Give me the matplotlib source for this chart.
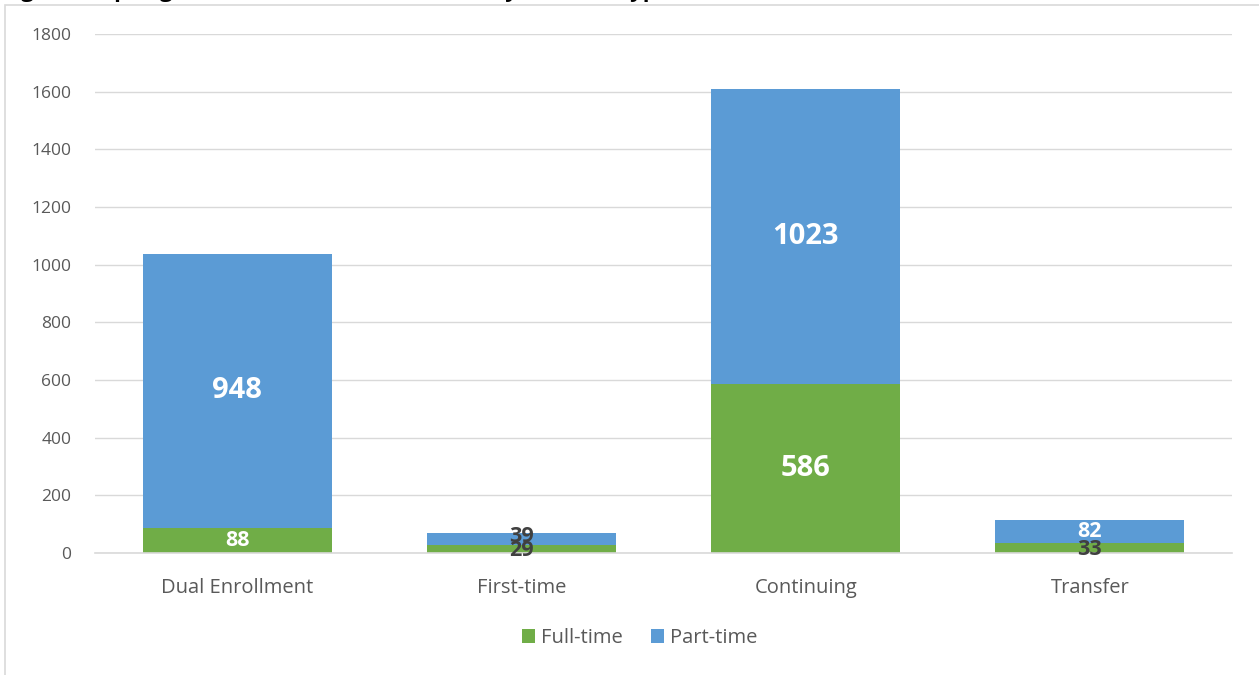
import matplotlib
matplotlib.use("Agg")
import matplotlib.pyplot as plt
from matplotlib.patches import Rectangle
import numpy as np

categories = ["Dual Enrollment", "First-time", "Continuing", "Transfer"]
full_time = [88, 29, 586, 33]
part_time = [948, 39, 1023, 82]
series_names = ["Full-time", "Part-time"]
yticks = [0, 200, 400, 600, 800, 1000, 1200, 1400, 1600, 1800]
title = "Figure 7: Spring 2019 Headcount Enrollment by Student Type"

green = "#70AD47"
blue = "#5B9BD5"
grid_c = "#D9D9D9"
txt_c = "#595959"

plt.rcParams['font.family'] = ['Open Sans', 'DejaVu Sans']

fig = plt.figure(figsize=(12.59, 6.75), dpi=100)
ax = fig.add_axes([95/1259, 1-553/675, (1232-95)/1259, (553-34)/675])

x = np.arange(len(categories))
w = 0.665
b1 = ax.bar(x, full_time, w, color=green, label=series_names[0], zorder=3)
b2 = ax.bar(x, part_time, w, bottom=full_time, color=blue, label=series_names[1], zorder=3)

ax.set_xlim(-0.5, len(categories)-0.5)
ax.set_ylim(0, 1800)
ax.set_yticks(yticks)
ax.set_xticks(x)
ax.set_xticklabels(categories)
ax.tick_params(axis='both', length=0, colors=txt_c)
ax.tick_params(axis='x', pad=18, labelsize=14.5)
ax.tick_params(axis='y', pad=17, labelsize=12.5)
ax.grid(axis='y', color=grid_c, linewidth=1, zorder=0)
for s in ['top', 'right', 'left']:
    ax.spines[s].set_visible(False)
ax.spines['bottom'].set_color(grid_c)
ax.spines['bottom'].set_linewidth(1.2)
ax.spines['bottom'].set_zorder(4)

for i in range(len(categories)):
    f = full_time[i]
    p = part_time[i]
    fc = "white" if f >= 80 else "#404040"
    ax.text(x[i], f/2 - (0 if f >= 80 else 6), str(f), ha='center', va='center', color=fc,
            fontsize=21 if f >= 250 else 15.5, fontweight='bold', zorder=5)
    pc = "white" if p >= 80 else "#404040"
    ax.text(x[i], f + p/2 + (0 if p >= 80 else 10), str(p), ha='center', va='center', color=pc,
            fontsize=21 if p >= 250 else 15.5, fontweight='bold', zorder=5)

leg = fig.legend(handles=[b1, b2], labels=series_names, loc='center',
                 bbox_to_anchor=(640/1259, 1-638/675), ncol=2, frameon=False,
                 fontsize=14.5, handlelength=0.65, handleheight=0.65,
                 handletextpad=0.3, columnspacing=1.4)
for t in leg.get_texts():
    t.set_color(txt_c)

fig.patches.append(Rectangle((5/1259, -0.01), 1.1, 1-5/675 + 0.01, transform=fig.transFigure,
                             fill=False, edgecolor=grid_c, linewidth=1.2, zorder=0))

fig.text(2/1259, 1 + 3/675, title, ha='left', va='baseline', fontsize=16,
         fontweight='bold', color='black')

fig.savefig("out.png", dpi=100)
